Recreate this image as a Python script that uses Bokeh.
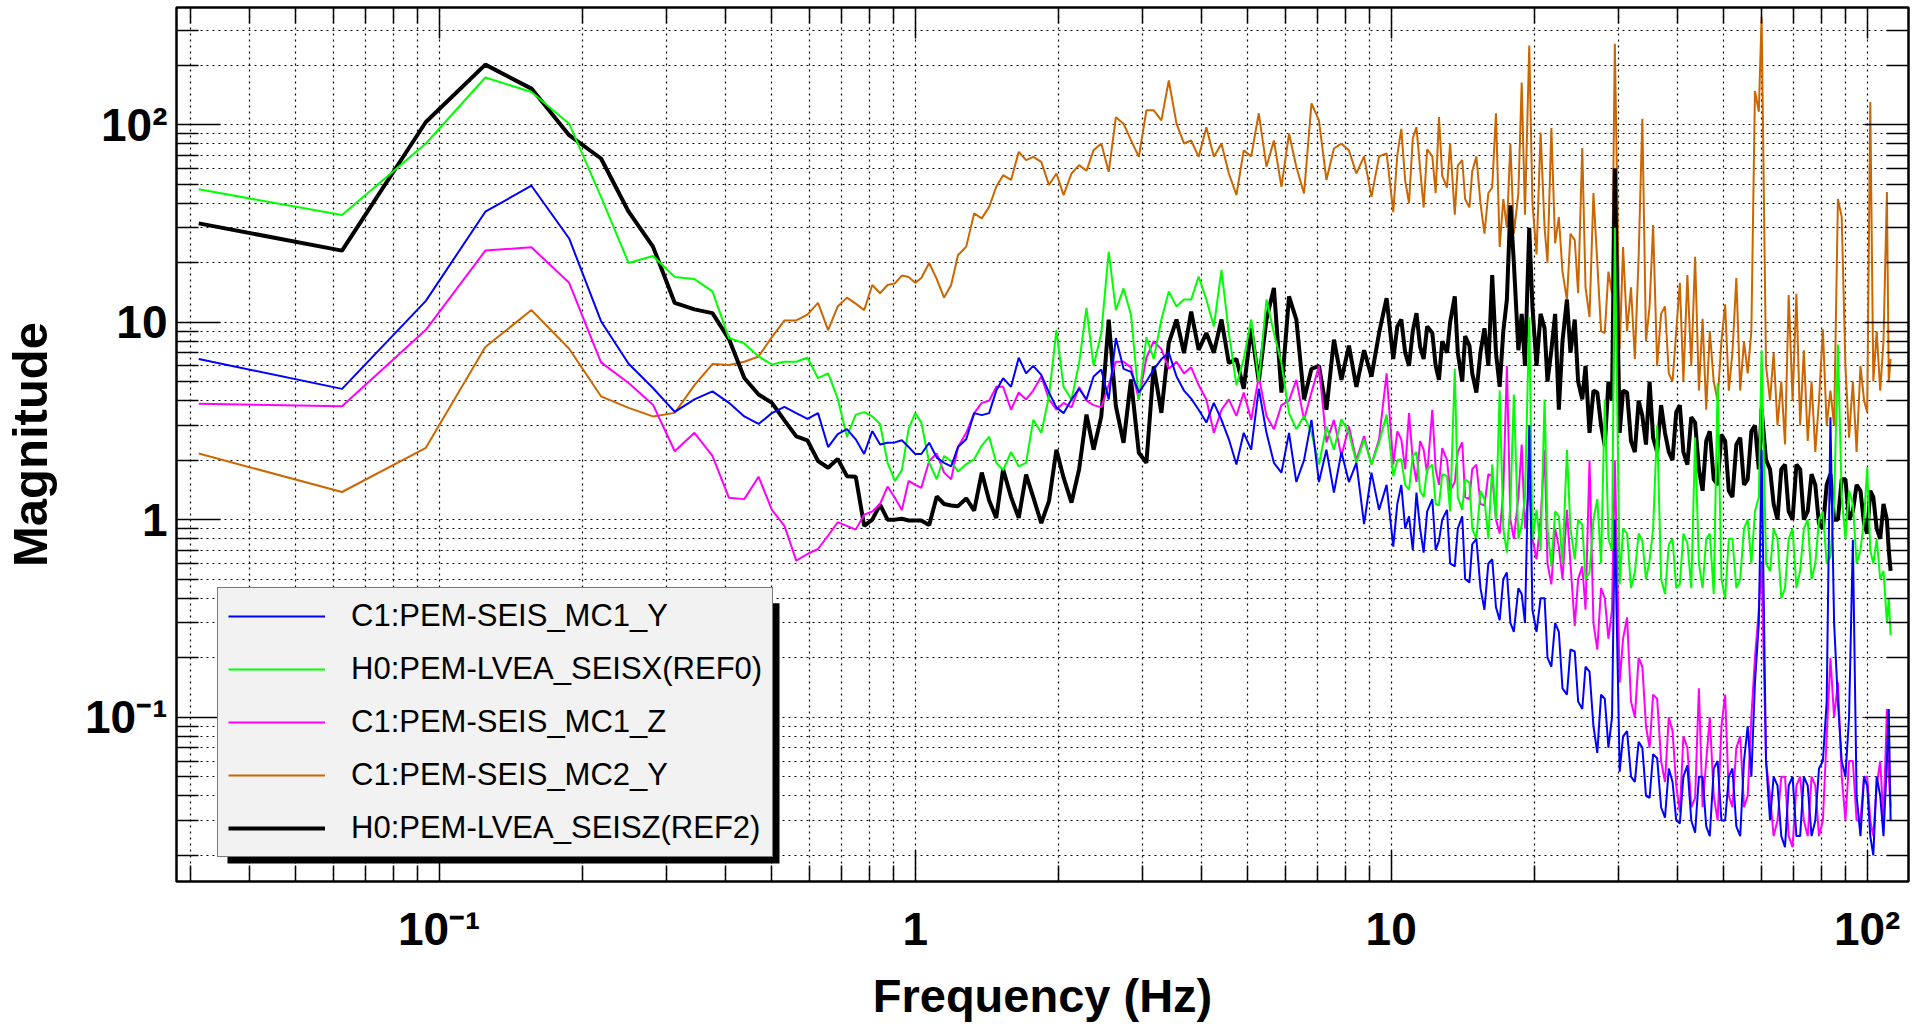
from bokeh.plotting import figure
from bokeh.models import (FixedTicker, LogAxis, Legend, LegendItem, BoxAnnotation, Range1d)
from bokeh.embed import file_html
from bokeh.resources import INLINE

# ---------------- data ----------------
freq = [
    # 1/32 Hz bins up to 1 Hz
    0.03125, 0.0625, 0.09375, 0.125, 0.15625, 0.1875, 0.21875, 0.25, 0.28125, 0.3125,
    0.34375, 0.375, 0.40625, 0.4375, 0.46875, 0.5, 0.53125, 0.5625, 0.59375, 0.625,
    0.65625, 0.6875, 0.71875, 0.75, 0.78125, 0.8125, 0.84375, 0.875, 0.90625, 0.9375, 0.96875, 1.0,
    # 1 - 10 Hz
    1.03, 1.07, 1.11, 1.15, 1.19, 1.23, 1.28, 1.33, 1.38, 1.43, 1.48, 1.53, 1.59, 1.65, 1.71, 1.77, 1.84, 1.91, 1.98,
    2.05, 2.13, 2.21, 2.29, 2.37, 2.46, 2.55, 2.64, 2.74, 2.84, 2.95,
    3.06, 3.17, 3.29, 3.41, 3.54, 3.67, 3.80, 3.94,
    4.09, 4.24, 4.40, 4.56, 4.73, 4.90,
    5.08, 5.27, 5.47, 5.67, 5.88,
    6.10, 6.32, 6.56, 6.80,
    7.05, 7.31, 7.58, 7.86,
    8.15, 8.45, 8.77, 9.09, 9.43, 9.78,
    # 10 - 112 Hz
    10.1, 10.3, 10.5, 10.7, 10.9, 11.1, 11.3, 11.5, 11.7, 11.9,
    12.2, 12.4, 12.6, 12.8, 13.1, 13.3, 13.6, 13.8, 14.1, 14.3, 14.6, 14.8,
    15.1, 15.4, 15.7, 16.0, 16.3, 16.6, 16.9, 17.2, 17.5, 17.8,
    18.1, 18.5, 18.8, 19.1, 19.5, 19.8,
    20.2, 20.6, 21.0, 21.3, 21.7, 22.1, 22.5, 22.9, 23.4, 23.8, 24.3, 24.7,
    25.2, 25.6, 26.1, 26.6, 27.1, 27.6, 28.1, 28.6, 29.1, 29.5,
    30.2, 30.7, 31.3, 31.9, 32.5, 33.1, 33.7, 34.3,
    34.9, 35.5, 36.2, 36.9, 37.6, 38.3, 39.0, 39.7,
    40.4, 41.1, 41.9, 42.7, 43.5, 44.3,
    45.1, 45.9, 46.7, 47.6, 48.5, 49.4,
    50.3, 51.2, 52.1, 53.1, 54.1, 55.1,
    56.1, 57.1, 58.1, 59.2,
    60.0, 61.3, 62.5, 63.6, 64.8,
    66.0, 67.2, 68.4, 69.7, 71.0,
    72.3, 73.6, 75.0, 76.4, 77.8, 79.2,
    80.7, 82.2, 83.7, 85.2, 86.8, 88.4,
    90.0, 91.6, 93.3, 95.0, 96.8, 98.5,
    100.0, 101.5, 103.0, 104.7, 106.5, 108.2, 110.0, 111.0, 112.0,
]

mc1_y = [
    6.50, 4.59, 12.8, 36.2, 49.0, 26.5, 10.1, 6.15, 4.64, 3.51,
    4.06, 4.46, 3.9, 3.33, 3.05, 3.46, 3.72, 3.46, 3.24, 3.46,
    2.33, 2.71, 2.87, 2.55, 2.15, 2.81, 2.4, 2.45, 2.46, 2.52, 2.33, 2.15,
    2.15, 2.45, 2.06, 1.94, 1.86, 2.33, 2.55, 3.46, 3.38, 3.46, 4.5, 5.2, 4.7, 6.6, 5.5, 6.0, 5.4, 4.4, 3.7,
    3.46, 4.06, 4.6, 4.06, 5.3, 5.75, 4.06, 8.3, 5.8, 5.6, 4.4,
    5.0, 5.75, 6.5, 7.0, 5.3, 4.5, 4.1, 3.6,
    3.1, 3.9, 3.2, 2.55, 1.9, 2.75,
    2.26, 4.6, 2.75, 1.94, 1.73,
    2.75, 1.55, 2.0, 3.2,
    1.55, 2.26, 1.37, 2.2,
    1.55, 1.94, 0.95, 1.73, 1.12, 1.5,
    0.73, 1.2, 1.5, 0.9, 1.04, 0.7, 1.37, 0.9, 0.68, 1.1,
    1.27, 0.7, 0.78, 1.0, 1.12, 0.6, 0.58, 0.9, 1.04, 0.5, 0.48, 0.75,
    0.8, 0.45, 0.35, 0.6, 0.63, 0.36, 0.31, 0.5, 0.54, 0.3,
    0.27, 0.45, 0.42, 0.3, 3.0, 0.35,
    0.27, 0.4, 0.40, 0.2, 0.18, 0.3, 0.27, 0.14, 0.13, 0.22, 0.215, 0.12,
    0.11, 0.18, 0.17, 0.09, 0.066, 0.13, 0.124, 0.07, 0.1, 1.0,
    0.053, 0.08, 0.085, 0.05, 0.047, 0.075, 0.07, 0.04,
    0.039, 0.065, 0.062, 0.035, 0.031, 0.055, 0.047, 0.03,
    0.029, 0.05, 0.057, 0.03, 0.026, 0.05,
    0.05, 0.028, 0.025, 0.055, 0.06, 0.03,
    0.03, 0.05, 0.055, 0.028, 0.025, 0.06,
    0.09, 0.05, 0.15, 0.3,
    2.26, 0.06, 0.03, 0.05, 0.045,
    0.025, 0.022, 0.045, 0.05, 0.025,
    0.025, 0.05, 0.045, 0.025, 0.03, 0.055,
    0.06, 0.12, 3.3, 0.3, 0.12, 0.06,
    0.05, 0.1, 0.79, 0.04, 0.025, 0.05,
    0.045, 0.025, 0.02, 0.05, 0.04, 0.025, 0.06, 0.11, 0.03,
]

ref0_x = [
    47.0, 34.8, 80.2, 173, 146, 101, 43, 19.9, 21.6, 16.9,
    16.5, 14.3, 8.3, 7.8, 6.7, 6.1, 6.3, 6.3, 6.6, 5.2,
    5.5, 4.1, 2.63, 3.4, 3.5, 3.33, 3.05, 1.94, 1.57, 1.78, 2.88, 3.46,
    3.1, 1.94, 1.6, 2.1, 1.98, 1.75, 1.91, 2.02, 2.37, 2.63, 1.94, 1.78, 2.2, 1.86, 1.94, 3.2, 2.75, 4.2, 9.1,
    4.7, 4.06, 6.2, 11.8, 6.0, 8.8, 22.7, 11.5, 14.8, 10.9, 4.06,
    8.4, 6.5, 10.3, 14.3, 12, 13, 13, 17.0,
    13, 9.5, 18.3, 8.8, 4.8, 6.5,
    10.3, 5.0, 13, 8.8, 6.2,
    3.46, 2.87, 3.35, 2.75,
    1.9, 2.96, 2.26, 3.22,
    2.75, 1.94, 2.55, 1.9, 2.46, 3.4,
    1.66, 2.0, 2.02, 1.5, 1.42, 2.1, 2.2, 1.4, 1.3, 1.8,
    1.9, 1.2, 1.18, 1.7, 1.66, 1.1, 5.8, 1.3, 1.12, 1.6, 1.54, 0.9,
    0.8, 1.4, 1.27, 0.8, 1.9, 1.0, 4.5, 0.9, 0.68, 1.2,
    4.3, 0.8, 0.94, 1.3, 10.6, 0.8,
    1.12, 0.7, 4.06, 0.9, 0.58, 1.1, 1.04, 0.6, 2.26, 0.9, 0.63, 1.0,
    0.94, 0.5, 0.54, 1.0, 1.27, 0.6, 4.06, 0.8, 0.7, 30,
    0.47, 0.9, 0.85, 0.45, 0.54, 0.85, 0.78, 0.5,
    0.62, 0.9, 3.0, 0.5, 0.42, 0.75, 0.8, 0.45,
    0.47, 0.85, 0.76, 0.45, 2.6, 0.6,
    0.45, 0.8, 0.85, 0.42, 4.9, 0.5,
    0.4, 0.8, 0.8, 0.45, 0.5, 0.9,
    1.0, 0.6, 1.1, 1.3,
    7.2, 0.6, 0.55, 0.9, 0.8,
    0.4, 0.45, 0.8, 0.9, 0.45,
    0.55, 0.9, 1.0, 0.5, 0.6, 1.0,
    1.1, 0.6, 0.65, 1.2, 7.7, 1.3,
    0.8, 1.4, 1.2, 0.6, 0.7, 1.0,
    1.84, 0.7, 0.6, 0.8, 0.5, 0.55, 0.3, 0.4, 0.26,
]

mc1_z = [
    3.86, 3.75, 9.14, 23.0, 23.9, 15.8, 6.25, 4.92, 3.82, 2.22,
    2.75, 2.1, 1.29, 1.27, 1.65, 1.12, 0.93, 0.62, 0.67, 0.71,
    0.83, 0.97, 0.93, 0.89, 1.06, 1.1, 1.2, 1.47, 1.29, 1.12, 1.57, 1.5,
    1.45, 1.98, 2.16, 1.73, 1.6, 2.33, 2.75, 3.46, 3.9, 4.0, 4.7, 4.7, 3.6, 4.4, 4.06, 4.5, 5.3, 4.06, 3.6,
    3.9, 3.7, 4.7, 4.0, 3.8, 3.7, 4.8, 6.3, 6.3, 5.9, 4.06,
    6.6, 8.0, 7.3, 5.8, 6.3, 5.5, 5.9, 4.8,
    4.06, 2.75, 3.6, 4.06, 3.35, 4.4,
    3.2, 5.3, 3.35, 2.87, 3.8,
    4.0, 5.1, 3.2, 4.4,
    6.0, 2.46, 3.2, 2.1,
    2.96, 2.0, 2.65, 1.9, 2.55, 5.5,
    1.9, 2.8, 2.55, 1.8, 3.46, 2.0, 1.55, 2.5, 2.26, 1.7,
    3.6, 1.8, 1.5, 2.3, 2.0, 1.4, 1.55, 2.2, 2.46, 1.3, 1.27, 1.8,
    1.9, 1.2, 1.18, 1.7, 1.66, 1.0, 0.85, 1.4, 6.0, 1.0,
    0.8, 1.3, 2.4, 0.9, 1.5, 0.8,
    0.63, 1.0, 2.26, 0.6, 0.47, 0.9, 0.73, 0.5, 1.12, 0.6, 0.29, 0.5,
    0.58, 0.35, 2.0, 0.3, 0.22, 0.45, 0.4, 0.25, 0.35, 2.0,
    0.15, 0.25, 0.32, 0.12, 0.1, 0.2, 0.18, 0.09,
    0.07, 0.13, 0.124, 0.06, 0.047, 0.1, 0.085, 0.045,
    0.033, 0.08, 0.07, 0.035, 0.039, 0.14,
    0.035, 0.06, 0.1, 0.04, 0.03, 0.09,
    0.13, 0.04, 0.035, 0.07, 0.08, 0.035,
    0.04, 0.1, 0.2, 0.35,
    0.6, 0.06, 0.04, 0.025, 0.03,
    0.05, 0.05, 0.025, 0.022, 0.045,
    0.05, 0.03, 0.025, 0.05, 0.045, 0.025,
    0.03, 0.08, 0.2, 0.1, 0.15, 0.05,
    0.03, 0.06, 0.06, 0.03, 0.03, 0.05,
    0.05, 0.03, 0.025, 0.045, 0.06, 0.03, 0.11, 0.05, 0.035,
]

mc2_y = [
    2.16, 1.38, 2.31, 7.48, 11.5, 7.33, 4.21, 3.68, 3.33, 3.47,
    4.8, 6.13, 6.06, 6.3, 6.7, 8.4, 10.2, 10.2, 10.9, 12.5,
    9.1, 12.0, 13.3, 12.4, 11.5, 15.4, 14.0, 15.4, 15.7, 17.2, 16.9, 15.8,
    16.7, 19.9, 16.5, 13.3, 15.4, 21.8, 24.1, 35.5, 33.5, 38.3, 48.4, 55.4, 52.4, 72.7, 66.1, 68.6, 64.7, 49.4, 56.5,
    43.9, 56.5, 62.3, 58.3, 74.2, 80.2, 57.6, 109, 101, 83.3, 68.6,
    118, 118, 105, 167, 101, 80.2, 83, 68.6,
    97, 68.6, 80, 56.5, 44, 74,
    69, 114, 61.2, 83, 48.4,
    90, 61, 44.8, 128,
    105, 52.4, 75.6, 80,
    74, 56.5, 69, 43, 69, 71.5,
    36, 70, 95, 52, 40, 85, 97, 60, 38, 75,
    69, 45, 109, 55, 48, 80, 35, 62, 66, 42, 38, 58,
    69, 40, 28, 45, 48, 114, 24, 42, 30, 80,
    28, 45, 163, 35, 251, 40,
    22, 91, 30, 20, 96, 25, 34, 18, 13, 28, 26, 14,
    76, 15, 10.6, 45, 20, 9, 8.8, 18, 14, 256,
    7.3, 24, 9, 15, 6.5, 21.4, 107, 8,
    12, 31, 6.0, 11, 12, 5.5, 5.0, 9,
    15.8, 5, 17.3, 6, 21.4, 4.5,
    10.4, 3.6, 9.0, 5, 4.0, 8,
    12.3, 4.5, 7, 16.7, 4.5, 8,
    5.5, 9, 148, 116,
    351, 6, 4.0, 7, 3,
    5, 2.4, 13.7, 4, 13.9,
    3.0, 7.2, 2.5, 5, 2.2, 4,
    9.2, 3, 4.5, 3.0, 42, 34,
    6, 2.6, 5, 2.2, 6.0, 4,
    3.5, 130, 5, 9, 4.5, 8, 45.6, 5, 6.5,
]

ref2_z = [
    31.6, 23.0, 103, 201, 152, 88.3, 67.3, 36.2, 24.1, 12.5,
    11.6, 11.1, 8.2, 5.21, 4.30, 3.90, 3.18, 2.64, 2.52, 1.98,
    1.83, 2.03, 1.66, 1.65, 0.93, 1.00, 1.19, 1.00, 1.00, 1.01, 0.99, 0.99,
    0.99, 0.94, 1.31, 1.2, 1.18, 1.17, 1.28, 1.11, 1.73, 1.25, 1.02, 1.80, 1.3, 1.02, 1.69, 1.3, 0.96, 1.24, 2.26,
    1.63, 1.22, 1.80, 3.40, 2.26, 3.33, 10.3, 3.75, 2.45, 5.12, 2.18,
    1.94, 5.97, 3.47, 7.83, 10.3, 6.97, 11.3, 7.24,
    8.8, 7.0, 10.3, 6.2, 6.5, 4.6,
    9.3, 5.0, 10.3, 14.9, 4.4,
    13.5, 10.3, 4.06, 5.8,
    6.0, 3.6, 8.15, 5.1,
    7.6, 4.7, 7.2, 5.3, 8.8, 13.2,
    6.5, 9.5, 10.3, 7, 6.0, 9, 11.1, 7.5, 6.5, 9.5,
    8.8, 6, 5.1, 8, 7.0, 10, 13.5, 7, 5.0, 8.5, 7.6, 5.5,
    4.4, 7, 9.3, 6, 17.3, 7, 4.7, 9, 13, 39,
    20, 7.2, 11, 6, 30, 12,
    6.0, 11, 9.3, 5, 7.2, 11, 3.6, 8, 13, 7, 10.3, 5,
    4.06, 6, 2.75, 4.5, 4.4, 3, 2.36, 5, 4, 60,
    2.75, 4.5, 4.4, 2.5, 2.2, 4, 3.35, 2.4,
    5.0, 2.6, 2.2, 3.8, 2.75, 2.2, 2.0, 3.5,
    3.8, 2.2, 1.9, 3.3, 3.1, 1.8,
    1.4, 2.5, 2.8, 1.6, 1.5, 2.7,
    2.5, 1.4, 1.3, 2.4, 2.6, 1.5,
    1.6, 2.8, 3.0, 1.8,
    3.65, 2.0, 1.8, 1.2, 1.0,
    1.8, 1.9, 1.1, 1.0, 1.9,
    1.8, 1.0, 1.1, 1.7, 1.5, 0.95,
    0.9, 1.5, 1.7, 1.0, 1.0, 1.6,
    1.6, 1.0, 1.1, 1.5, 1.4, 0.95,
    0.85, 1.4, 1.3, 0.9, 0.8, 1.2, 1.0, 0.7, 0.55,
]

labels = ["C1:PEM-SEIS_MC1_Y", "H0:PEM-LVEA_SEISX(REF0)", "C1:PEM-SEIS_MC1_Z",
          "C1:PEM-SEIS_MC2_Y", "H0:PEM-LVEA_SEISZ(REF2)"]

major_ticks = [0.1, 1.0, 10.0, 100.0]
tick_text = ["10\u207b\u00b9", "1", "10", "10\u00b2"]
x_minor = [0.03, 0.04, 0.05, 0.06, 0.07, 0.08, 0.09,
           0.2, 0.3, 0.4, 0.5, 0.6, 0.7, 0.8, 0.9,
           2, 3, 4, 5, 6, 7, 8, 9,
           20, 30, 40, 50, 60, 70, 80, 90]
y_minor = [0.02, 0.03, 0.04, 0.05, 0.06, 0.07, 0.08, 0.09,
           0.2, 0.3, 0.4, 0.5, 0.6, 0.7, 0.8, 0.9,
           2, 3, 4, 5, 6, 7, 8, 9,
           20, 30, 40, 50, 60, 70, 80, 90, 200, 300]

for s in (mc1_y, ref0_x, mc1_z, mc2_y, ref2_z):
    assert len(s) == len(freq), (len(s), len(freq))

# ---------------- geometry (pixel calibration of the reference frame) ----------------
def x_at(px):
    return 10 ** (-1 + (px - 438.7) / 476.0)


def y_at(py):
    return 10 ** (2 - (py - 124.3) / 198.0)


FONT = "Liberation Sans"

p = figure(width=1923, height=1024, x_axis_type="log", y_axis_type="log",
           x_range=Range1d(x_at(176), x_at(1908)), y_range=Range1d(y_at(883), y_at(7)),
           output_backend="svg", toolbar_location=None,
           min_border_left=176, min_border_right=15, min_border_top=7, min_border_bottom=141)
p.background_fill_color = "white"
p.border_fill_color = "white"
p.outline_line_color = "black"
p.outline_line_width = 2.5

overrides = {t: s for t, s in zip(major_ticks, tick_text)}
blank = {t: "" for t in major_ticks}

xt = FixedTicker(ticks=major_ticks, minor_ticks=x_minor)
yt = FixedTicker(ticks=major_ticks, minor_ticks=y_minor)


def style_axis(ax, major_in, minor_in):
    ax.axis_line_color = None
    ax.major_tick_in = major_in
    ax.major_tick_out = 0
    ax.minor_tick_in = minor_in
    ax.minor_tick_out = 0
    ax.major_tick_line_width = 1.5
    ax.minor_tick_line_width = 1.5
    ax.major_tick_line_color = "black"
    ax.minor_tick_line_color = "black"


xa = p.xaxis[0]
xa.ticker = xt
style_axis(xa, 31, 16)
xa.major_label_overrides = overrides
xa.major_label_text_font = FONT
xa.major_label_text_font_style = "bold"
xa.major_label_text_font_size = "46px"
xa.major_label_text_color = "black"
xa.major_label_standoff = 21
xa.axis_label = "Frequency (Hz)"
xa.axis_label_text_font = FONT
xa.axis_label_text_font_style = "bold"
xa.axis_label_text_font_size = "47px"
xa.axis_label_text_color = "black"
xa.axis_label_standoff = 11

ya = p.yaxis[0]
ya.ticker = yt
style_axis(ya, 44, 22)
ya.major_label_overrides = overrides
ya.major_label_text_font = FONT
ya.major_label_text_font_style = "bold"
ya.major_label_text_font_size = "46px"
ya.major_label_text_color = "black"
ya.major_label_standoff = 9
ya.axis_label = "Magnitude"
ya.axis_label_text_font = FONT
ya.axis_label_text_font_style = "bold"
ya.axis_label_text_font_size = "49px"
ya.axis_label_text_color = "black"
ya.axis_label_standoff = 25

top = LogAxis(ticker=xt, major_label_overrides=blank, major_label_standoff=0)
style_axis(top, 31, 16)
p.add_layout(top, "above")
right = LogAxis(ticker=yt, major_label_overrides=blank, major_label_standoff=0)
style_axis(right, 44, 22)
p.add_layout(right, "right")

for g in (p.xgrid[0], p.ygrid[0]):
    g.grid_line_color = "black"
    g.grid_line_dash = "2 4"
    g.grid_line_width = 1.2
    g.minor_grid_line_color = "black"
    g.minor_grid_line_dash = "2 4"
    g.minor_grid_line_width = 1.2
p.xgrid[0].ticker = xt
p.ygrid[0].ticker = yt

# ---------------- curves ----------------
r_orange = p.line(freq, mc2_y, line_color="#cc6600", line_width=2)
r_black = p.line(freq, ref2_z, line_color="black", line_width=4)
r_magenta = p.line(freq, mc1_z, line_color="#ff00ff", line_width=2)
r_green = p.line(freq, ref0_x, line_color="#00ff00", line_width=2)
r_blue = p.line(freq, mc1_y, line_color="#0000ff", line_width=2)

# ---------------- legend with shadow ----------------
shadow = BoxAnnotation(left=x_at(227), right=x_at(779), top=y_at(604), bottom=y_at(865),
                       fill_color="black", fill_alpha=1.0, line_color=None)
p.add_layout(shadow)

legend = Legend(items=[
    LegendItem(label=labels[0], renderers=[r_blue]),
    LegendItem(label=labels[1], renderers=[r_green]),
    LegendItem(label=labels[2], renderers=[r_magenta]),
    LegendItem(label=labels[3], renderers=[r_orange]),
    LegendItem(label=labels[4], renderers=[r_black]),
], location=(41, 24))
legend.margin = 0
legend.padding = 10
legend.spacing = 17
legend.glyph_width = 97
legend.glyph_height = 36
legend.label_height = 36
legend.label_standoff = 26
legend.label_text_font = FONT
legend.label_text_font_size = "31px"
legend.label_text_color = "black"
legend.border_line_color = "black"
legend.border_line_width = 1.2
legend.background_fill_color = "#f2f2f2"
legend.background_fill_alpha = 1.0
p.add_layout(legend, "center")

open("out.html", "w").write(file_html(p, INLINE))
